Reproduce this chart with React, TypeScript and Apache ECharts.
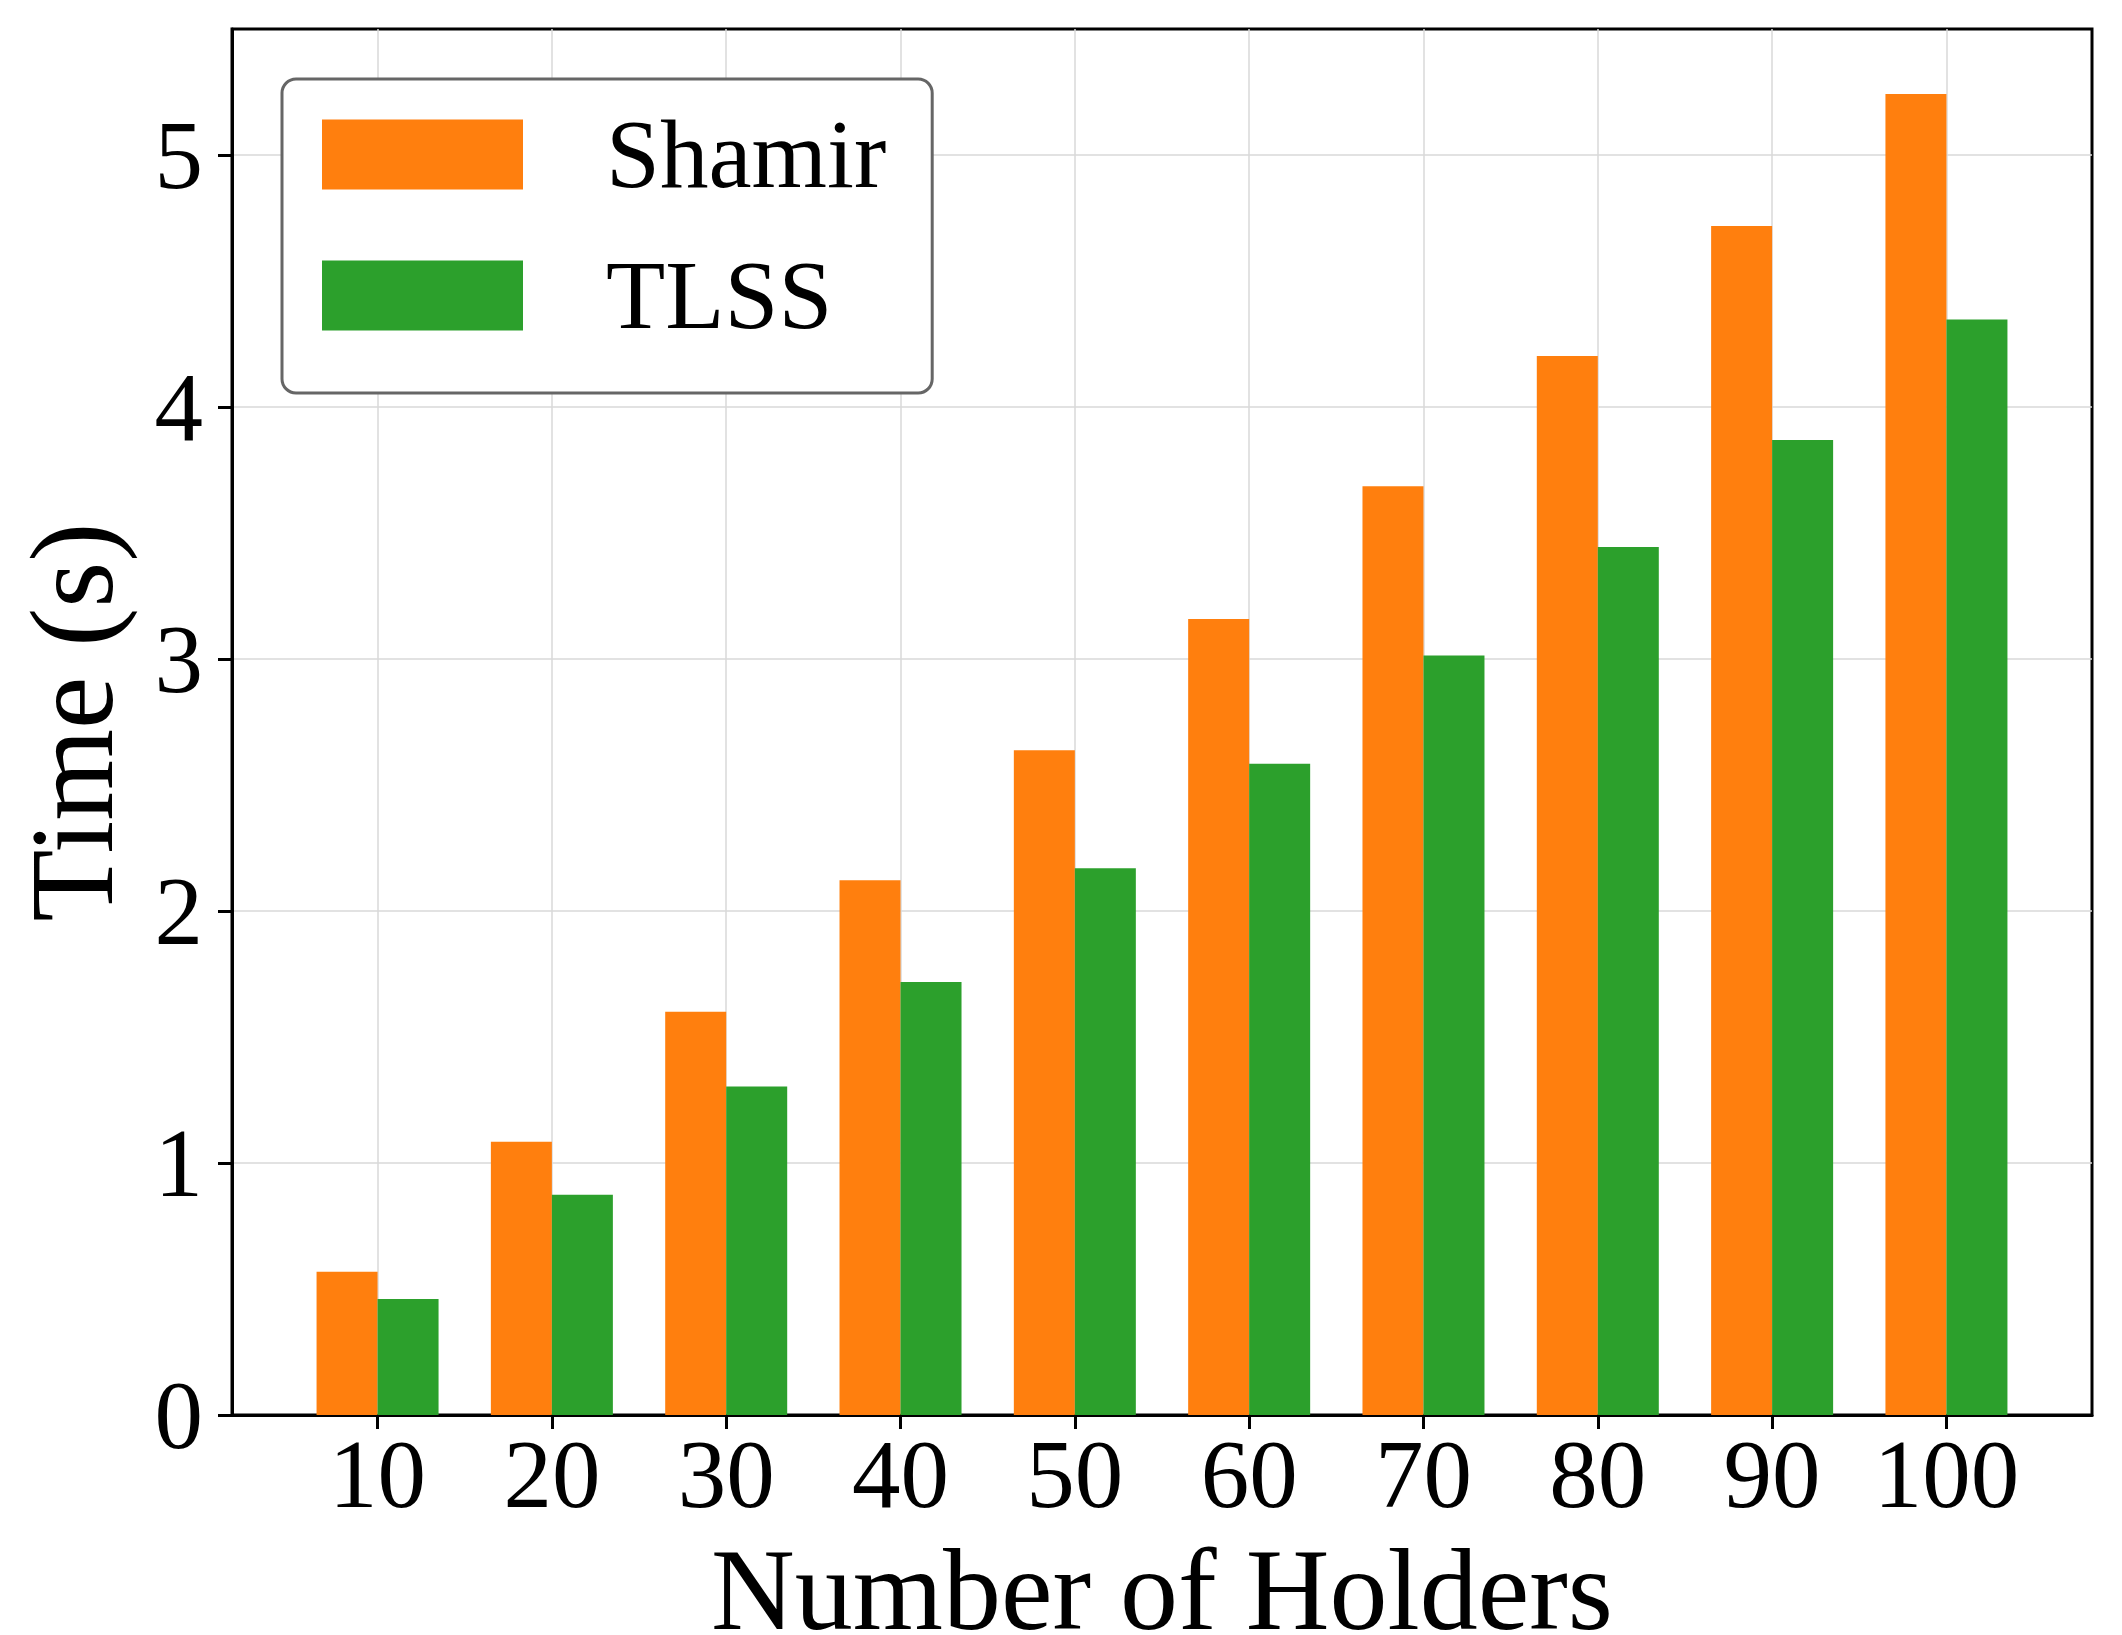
import React, { useEffect, useRef } from "react";
import * as echarts from "echarts";

const holders = [10, 20, 30, 40, 50, 60, 70, 80, 90, 100];
const shamir = [0.568, 1.084, 1.6, 2.122, 2.638, 3.159, 3.686, 4.202, 4.718, 5.242];
const tlss = [0.46, 0.874, 1.304, 1.718, 2.17, 2.584, 3.014, 3.444, 3.869, 4.347];
const yTicks = [0, 1, 2, 3, 4, 5];

const FONT = "Liberation Serif";

export default function App() {
  const ref = useRef<HTMLDivElement>(null);
  useEffect(() => {
    if (!ref.current) return;
    const chart = echarts.init(ref.current, null, { renderer: "svg" });
    chart.setOption({
      animation: false,
      backgroundColor: "#ffffff",
      textStyle: { fontFamily: FONT },
      grid: {
        left: 232,
        right: 30,
        top: 29,
        bottom: 220,
        outerBoundsMode: "none",
        containLabel: false,
        show: true,
        borderColor: "#000",
        borderWidth: 3,
        backgroundColor: "transparent",
      },
      legend: {
        orient: "vertical",
        left: 282,
        top: 79,
        padding: [27, 46, 49, 40],
        itemWidth: 201,
        itemHeight: 70,
        itemGap: 44,
        icon: "rect",
        borderColor: "#666",
        borderWidth: 3,
        borderRadius: 14,
        backgroundColor: "#fff",
        textStyle: {
          fontFamily: FONT,
          fontSize: 97,
          lineHeight: 97,
          color: "#000",
          padding: [0, 0, 0, 78],
        },
        data: ["Shamir", "TLSS"],
      },
      xAxis: {
        type: "value",
        min: 1.65,
        max: 108.35,
        name: "Number of Holders",
        nameLocation: "middle",
        nameGap: 135,
        nameTextStyle: { fontFamily: FONT, fontSize: 116, color: "#000", lineHeight: 80 },
        axisLine: { show: true, lineStyle: { color: "#000", width: 3 } },
        axisTick: {
          show: true,
          inside: false,
          length: 14,
          lineStyle: { color: "#000", width: 3 },
          customValues: holders,
        },
        axisLabel: {
          customValues: holders,
          margin: 11,
          fontFamily: FONT,
          fontSize: 97,
          lineHeight: 97,
          color: "#000",
        },
        splitLine: { show: true, lineStyle: { color: "#d9d9d9", width: 1.5 } },
      },
      yAxis: {
        type: "value",
        min: 0,
        max: 5.5,
        name: "Time (s)",
        nameLocation: "middle",
        nameGap: 101,
        nameRotate: 90,
        nameTextStyle: { fontFamily: FONT, fontSize: 118, color: "#000", lineHeight: 118 },
        axisLine: { show: true, lineStyle: { color: "#000", width: 3 } },
        axisTick: {
          show: true,
          inside: false,
          length: 14,
          lineStyle: { color: "#000", width: 3 },
          customValues: yTicks,
        },
        axisLabel: {
          customValues: yTicks,
          margin: 29,
          fontFamily: FONT,
          fontSize: 97,
          lineHeight: 97,
          color: "#000",
        },
        splitLine: { show: true, lineStyle: { color: "#d9d9d9", width: 1.5 } },
      },
      series: [
        {
          name: "Shamir",
          type: "bar",
          barWidth: 61,
          barGap: "0%",
          itemStyle: { color: "#ff7f0e" },
          data: holders.map((h, i) => [h, shamir[i]]),
        },
        {
          name: "TLSS",
          type: "bar",
          barWidth: 61,
          barGap: "0%",
          itemStyle: { color: "#2ca02c" },
          data: holders.map((h, i) => [h, tlss[i]]),
        },
      ],
    });
    return () => chart.dispose();
  }, []);
  return (
    <div
      ref={ref}
      style={{ position: "fixed", left: 0, top: 0, width: 2122, height: 1635 }}
    />
  );
}
